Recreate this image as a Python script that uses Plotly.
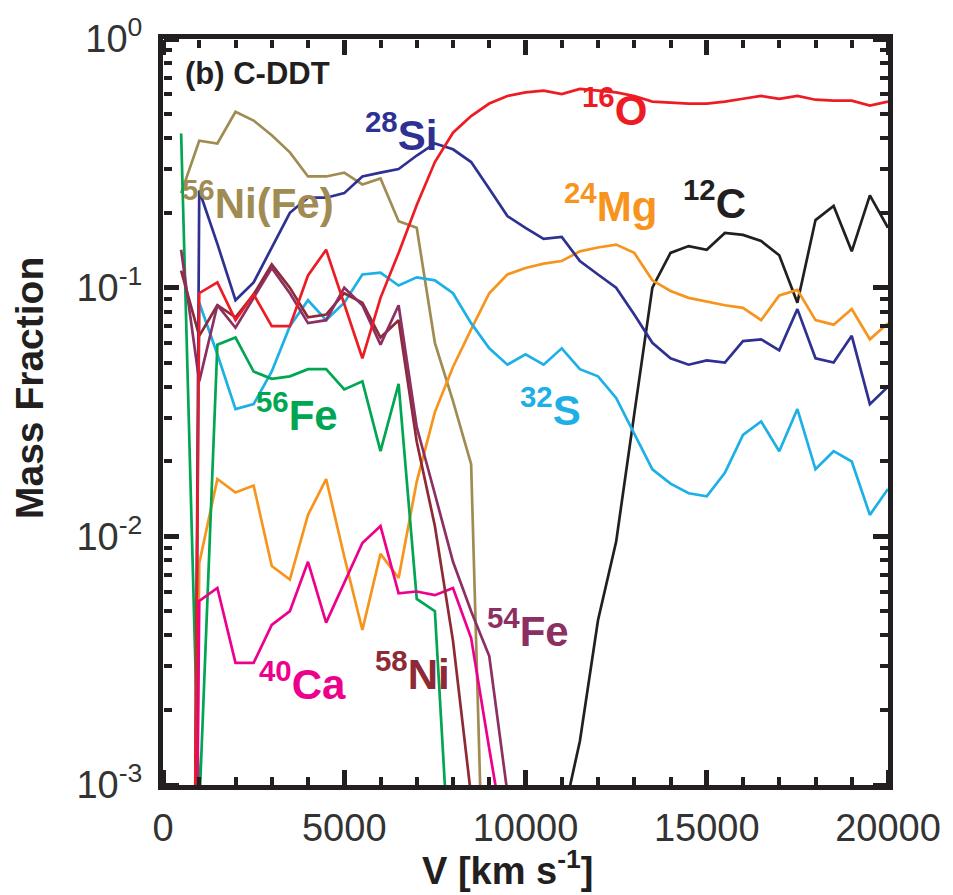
import plotly.graph_objects as go

TINY = 1e-10

V = [500, 1000, 1500, 2000, 2500, 3000, 3500, 4000, 4500, 5000,
     5500, 6000, 6500, 7000, 7500, 8000, 8500, 9000, 9500, 10000,
     10500, 11000, 11500, 12000, 12500, 13000, 13500, 14000, 14500, 15000,
     15500, 16000, 16500, 17000, 17500, 18000, 18500, 19000, 19500, 20000]

O16 = [TINY, 0.095, 0.105, 0.074, 0.094, 0.070, 0.070, 0.112, 0.142, 0.085,
       0.052, 0.091, 0.138, 0.215, 0.32, 0.42, 0.49, 0.55, 0.59, 0.61,
       0.62, 0.60, 0.63, 0.62, 0.61, 0.59, 0.56, 0.555, 0.55, 0.55,
       0.56, 0.575, 0.59, 0.575, 0.59, 0.57, 0.565, 0.565, 0.54, 0.56]

Si28 = [1e-12, 0.246, 0.15, 0.089, 0.105, 0.145, 0.20, 0.23, 0.23, 0.24,
        0.28, 0.29, 0.30, 0.34, 0.38, 0.36, 0.32, 0.25, 0.194, 0.174,
        0.157, 0.16, 0.128, 0.113, 0.10, 0.078, 0.06, 0.052, 0.049, 0.051,
        0.05, 0.061, 0.062, 0.056, 0.082, 0.052, 0.05, 0.064, 0.034, 0.04]

S32 = [TINY, 0.087, 0.054, 0.0325, 0.034, 0.046, 0.07, 0.089, 0.074, 0.087,
       0.113, 0.115, 0.102, 0.11, 0.107, 0.095, 0.072, 0.057, 0.049, 0.054,
       0.049, 0.057, 0.047, 0.044, 0.036, 0.026, 0.0186, 0.0163, 0.0149, 0.0145,
       0.018, 0.0256, 0.029, 0.022, 0.0325, 0.0186, 0.022, 0.02, 0.0122, 0.0155]

Mg24 = [TINY, 0.0078, 0.017, 0.015, 0.016, 0.0076, 0.0067, 0.0122, 0.017, 0.0083,
        0.0042, 0.0085, 0.0068, 0.0166, 0.0316, 0.048, 0.068, 0.095, 0.113, 0.12,
        0.125, 0.128, 0.14, 0.145, 0.149, 0.138, 0.107, 0.097, 0.091, 0.088,
        0.085, 0.083, 0.074, 0.093, 0.098, 0.074, 0.071, 0.082, 0.062, 0.072]

C12 = [TINY, TINY, TINY, TINY, TINY, TINY, TINY, TINY, TINY, TINY,
       TINY, TINY, TINY, TINY, TINY, TINY, TINY, TINY, TINY, TINY,
       TINY, 7e-4, 0.0015, 0.0046, 0.0095, 0.031, 0.10, 0.138, 0.147, 0.142,
       0.166, 0.163, 0.154, 0.135, 0.087, 0.187, 0.213, 0.14, 0.235, 0.174]

Ni56 = [0.24, 0.39, 0.38, 0.51, 0.47, 0.41, 0.35, 0.28, 0.28, 0.29,
        0.26, 0.275, 0.185, 0.174, 0.06, 0.035, 0.0195, 5e-5, TINY, TINY,
        TINY, TINY, TINY, TINY, TINY, TINY, TINY, TINY, TINY, TINY,
        TINY, TINY, TINY, TINY, TINY, TINY, TINY, TINY, TINY, TINY]

Fe56 = [0.417, 8e-4, 0.059, 0.063, 0.046, 0.043, 0.044, 0.047, 0.047, 0.039,
        0.042, 0.022, 0.041, 0.0056, 0.005, 2.7e-4, TINY, TINY, TINY, TINY,
        TINY, TINY, TINY, TINY, TINY, TINY, TINY, TINY, TINY, TINY,
        TINY, TINY, TINY, TINY, TINY, TINY, TINY, TINY, TINY, TINY]

Ca40 = [TINY, 0.0055, 0.0062, 0.0031, 0.0031, 0.0044, 0.005, 0.0079, 0.0045, 0.0065,
        0.0094, 0.011, 0.0059, 0.006, 0.0058, 0.0062, 0.0039, 0.0014, 5.2e-4, TINY,
        TINY, TINY, TINY, TINY, TINY, TINY, TINY, TINY, TINY, TINY,
        TINY, TINY, TINY, TINY, TINY, TINY, TINY, TINY, TINY, TINY]

Ni58 = [0.117, 0.064, 0.085, 0.076, 0.094, 0.124, 0.10, 0.076, 0.078, 0.095,
        0.087, 0.063, 0.074, 0.024, 0.011, 0.0038, 9e-4, TINY, TINY, TINY,
        TINY, TINY, TINY, TINY, TINY, TINY, TINY, TINY, TINY, TINY,
        TINY, TINY, TINY, TINY, TINY, TINY, TINY, TINY, TINY, TINY]

Fe54 = [0.142, 0.042, 0.085, 0.069, 0.091, 0.12, 0.095, 0.072, 0.074, 0.10,
        0.085, 0.059, 0.085, 0.0275, 0.0148, 0.0079, 0.005, 0.0033, 9.3e-4, TINY,
        TINY, TINY, TINY, TINY, TINY, TINY, TINY, TINY, TINY, TINY,
        TINY, TINY, TINY, TINY, TINY, TINY, TINY, TINY, TINY, TINY]

SERIES = [
    ("56Ni(Fe)", Ni56, "#a08c52"),
    ("12C", C12, "#231f20"),
    ("24Mg", Mg24, "#f7941d"),
    ("32S", S32, "#1cb0e6"),
    ("56Fe", Fe56, "#00a651"),
    ("40Ca", Ca40, "#ec008c"),
    ("58Ni", Ni58, "#8e2a35"),
    ("54Fe", Fe54, "#8c2f62"),
    ("28Si", Si28, "#2e3192"),
    ("16O", O16, "#ed1c24"),
]

# label: (superscript, main, colour, x [km/s], log10 y)
LABELS = [
    ("28", "Si", "#2e3192", 5530, -0.372),
    ("16", "O", "#ed1c24", 11500, -0.272),
    ("24", "Mg", "#f7941d", 11000, -0.66),
    ("12", "C", "#231f20", 14300, -0.648),
    ("56", "Ni(Fe)", "#a08c52", 470, -0.648),
    ("32", "S", "#1cb0e6", 9780, -1.48),
    ("56", "Fe", "#00a651", 2520, -1.50),
    ("40", "Ca", "#ec008c", 2600, -2.58),
    ("58", "Ni", "#8e2a35", 5800, -2.54),
    ("54", "Fe", "#8c2f62", 8880, -2.368),
]

XTICKS = [0, 5000, 10000, 15000, 20000]
XMINOR = [1000, 2000, 3000, 4000, 6000, 7000, 8000, 9000,
          11000, 12000, 13000, 14000, 16000, 17000, 18000, 19000]
YTICKS = [0.001, 0.01, 0.1, 1]
YTICKTEXT = ["10<sup>-3</sup>", "10<sup>-2</sup>", "10<sup>-1</sup>", "10<sup>0</sup>"]
YMINOR = [0.002, 0.003, 0.004, 0.005, 0.006, 0.007, 0.008, 0.009,
          0.02, 0.03, 0.04, 0.05, 0.06, 0.07, 0.08, 0.09,
          0.2, 0.3, 0.4, 0.5, 0.6, 0.7, 0.8, 0.9]

FONT = "Liberation Sans, Arial, Helvetica, sans-serif"
INK = "#231f20"
XR = [0, 20000]
YR = [-3, 0]

fig = go.Figure()
for name, vals, col in SERIES:
    fig.add_trace(go.Scatter(x=V, y=vals, mode="lines", name=name,
                             line=dict(color=col, width=2.7),
                             hoverinfo="skip", showlegend=False))

# Tick-only overlay axes: an axis placed on the opposite edge with its
# ticks drawn "outside" points its ticks into the plotting area.
TICK_AXES = {
    # name: (kind, side, position, tickvals, ticklen, tickwidth)
    "xaxis2": ("x", "top", 0, XTICKS, 15, 5),
    "xaxis3": ("x", "top", 0, XMINOR, 8, 4),
    "xaxis4": ("x", "bottom", 1, XTICKS, 15, 5),
    "xaxis5": ("x", "bottom", 1, XMINOR, 8, 4),
    "yaxis2": ("y", "right", 0, YTICKS, 15, 5),
    "yaxis3": ("y", "right", 0, YMINOR, 8, 4),
    "yaxis4": ("y", "left", 1, YTICKS, 15, 5),
    "yaxis5": ("y", "left", 1, YMINOR, 8, 4),
}

axes_layout = {}
for name, (kind, side, pos, vals, tlen, twid) in TICK_AXES.items():
    ax = dict(overlaying=kind, side=side, anchor="free", position=pos,
              tickmode="array", tickvals=vals, ticks="outside", ticklen=tlen,
              tickwidth=twid, tickcolor=INK, showticklabels=False,
              showline=False, showgrid=False, zeroline=False)
    if kind == "x":
        ax["range"] = XR
        ref = "x" + name[5:]
        fig.add_trace(go.Scatter(x=[None], y=[None], xaxis=ref, yaxis="y",
                                 mode="lines", showlegend=False, hoverinfo="skip"))
    else:
        ax["type"] = "log"
        ax["range"] = YR
        ref = "y" + name[5:]
        fig.add_trace(go.Scatter(x=[None], y=[None], xaxis="x", yaxis=ref,
                                 mode="lines", showlegend=False, hoverinfo="skip"))
    axes_layout[name] = ax

for sup, main, col, x, ly in LABELS:
    fig.add_annotation(x=x, y=ly, xref="x", yref="y", xanchor="left", yanchor="middle",
                       text=f"<b><sup>{sup}</sup>{main}</b>", showarrow=False,
                       font=dict(family=FONT, size=42, color=col))

fig.add_annotation(x=550, y=-0.14, xref="x", yref="y", xanchor="left", yanchor="middle",
                   text="<b>(b) C-DDT</b>", showarrow=False,
                   font=dict(family=FONT, size=31, color=INK))

# axis titles
fig.add_annotation(x=-0.185, y=0.532, xref="paper", yref="paper",
                   xanchor="center", yanchor="middle", textangle=-90,
                   text="<b>Mass Fraction</b>", showarrow=False,
                   font=dict(family=FONT, size=39, color=INK))
fig.add_annotation(x=0.475, y=-0.146, xref="paper", yref="paper",
                   xanchor="center", yanchor="bottom",
                   text="<b>V [km s<sup>-1</sup>]</b>", showarrow=False,
                   font=dict(family=FONT, size=38, color=INK))

fig.update_layout(
    width=953, height=895,
    margin=dict(l=163, r=60, t=33, b=110),
    plot_bgcolor="white", paper_bgcolor="white",
    showlegend=False,
    font=dict(family=FONT, color=INK),
    xaxis=dict(
        range=XR, showgrid=False, zeroline=False,
        showline=True, linewidth=5, linecolor=INK, mirror=True,
        ticks="outside", ticklen=5, tickcolor="rgba(0,0,0,0)",
        tickvals=XTICKS, ticktext=[str(t) for t in XTICKS],
        tickfont=dict(family=FONT, size=38, color="#333333"),
    ),
    yaxis=dict(
        type="log", range=YR, showgrid=False, zeroline=False,
        showline=True, linewidth=5, linecolor=INK, mirror=True,
        ticks="outside", ticklen=8, tickcolor="rgba(0,0,0,0)",
        tickvals=YTICKS, ticktext=YTICKTEXT,
        tickfont=dict(family=FONT, size=38, color="#333333"),
    ),
    **axes_layout,
)

fig.write_html("out.html")
